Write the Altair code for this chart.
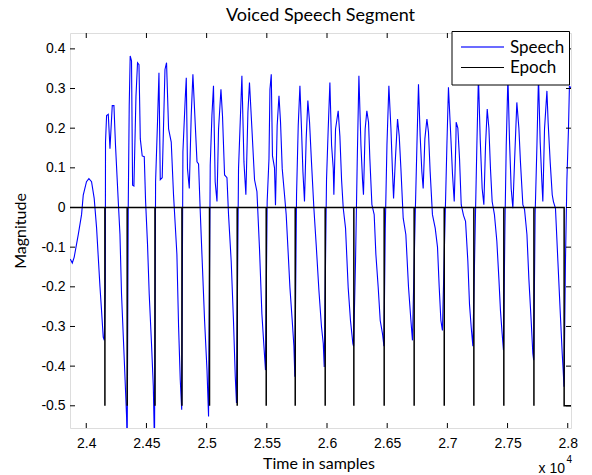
import altair as alt
import pandas as pd

# ---- data ----
# speech waveform: (time in samples, magnitude)
speech = [
    (23867, -0.13), (23884, -0.14), (23900, -0.125), (23934, -0.068), (23961, -0.018),
    (23975, 0.031), (24002, 0.065), (24022, 0.073), (24044, 0.065), (24066, 0.023),
    (24086, -0.052), (24114, -0.2), (24127, -0.26), (24141, -0.327), (24150, -0.335),
    (24158, -0.2), (24160, 0.165), (24169, 0.232), (24183, 0.235), (24197, 0.148),
    (24216, 0.257), (24230, 0.257), (24243, 0.157), (24266, 0.015), (24280, -0.068),
    (24293, -0.218), (24316, -0.385), (24335, -0.527), (24340, -0.6), (24349, 0.006),
    (24357, 0.257), (24365, 0.382), (24376, 0.37), (24385, 0.056), (24396, 0.054),
    (24413, 0.28), (24426, 0.365), (24438, 0.36), (24449, 0.173), (24465, 0.13),
    (24482, 0.128), (24493, 0.015), (24509, -0.093), (24523, -0.218), (24542, -0.343),
    (24557, -0.45), (24567, -0.6), (24576, 0.065), (24592, 0.215), (24604, 0.34),
    (24615, 0.07), (24631, 0.075), (24654, 0.348), (24667, 0.365), (24684, 0.198),
    (24706, 0.165), (24725, 0.032), (24753, -0.118), (24767, -0.30), (24781, -0.435),
    (24793, -0.51), (24803, 0.14), (24822, 0.273), (24831, 0.327), (24841, 0.098),
    (24856, 0.048), (24872, 0.232), (24886, 0.336), (24900, 0.245), (24920, 0.115),
    (24933, 0.11), (24947, -0.01), (24961, -0.118), (24983, -0.285), (25003, -0.41),
    (25016, -0.527), (25030, 0.107), (25044, 0.232), (25057, 0.307), (25071, 0.065),
    (25086, 0.015), (25099, 0.198), (25119, 0.298), (25132, 0.23), (25149, 0.082),
    (25169, 0.075), (25182, -0.018), (25204, -0.135), (25223, -0.285), (25238, -0.427),
    (25248, -0.493), (25265, 0.098), (25279, 0.215), (25293, 0.332), (25310, 0.115),
    (25326, 0.032), (25343, 0.24), (25356, 0.315), (25376, 0.2), (25398, 0.07),
    (25418, 0.04), (25439, -0.102), (25459, -0.268), (25476, -0.35), (25489, -0.41),
    (25503, 0.015), (25518, 0.123), (25526, 0.298), (25537, 0.336), (25547, 0.13),
    (25564, 0.1), (25572, 0.006), (25586, 0.207), (25601, 0.282), (25614, 0.215),
    (25628, 0.098), (25647, 0.032), (25661, -0.018), (25678, -0.118), (25692, -0.202),
    (25711, -0.285), (25725, -0.35), (25733, -0.427), (25747, 0.032), (25761, 0.207),
    (25775, 0.307), (25788, 0.2), (25800, 0.09), (25813, 0.015), (25827, 0.173),
    (25841, 0.27), (25855, 0.215), (25871, 0.115), (25891, -0.002), (25910, -0.093),
    (25933, -0.21), (25954, -0.3), (25969, -0.343), (25977, -0.402), (25996, 0.07),
    (26010, 0.198), (26024, 0.315), (26038, 0.157), (26052, 0.098), (26057, 0.032),
    (26071, 0.198), (26093, 0.244), (26107, 0.18), (26121, 0.07), (26135, -0.002),
    (26154, -0.052), (26176, -0.202), (26195, -0.285), (26215, -0.343), (26221, -0.35),
    (26237, -0.135), (26251, 0.115), (26265, 0.332), (26282, 0.157), (26295, 0.07),
    (26303, 0.032), (26317, 0.198), (26331, 0.244), (26345, 0.215), (26356, 0.123),
    (26373, 0.007), (26392, -0.018), (26406, -0.118), (26425, -0.2), (26442, -0.285),
    (26461, -0.318), (26473, -0.35), (26484, -0.052), (26498, 0.157), (26514, 0.307),
    (26531, 0.2), (26544, 0.09), (26553, 0.023), (26567, 0.115), (26586, 0.223),
    (26600, 0.18), (26614, 0.098), (26633, -0.027), (26655, -0.068), (26677, -0.2),
    (26697, -0.285), (26710, -0.335), (26733, -0.018), (26747, 0.157), (26760, 0.311),
    (26774, 0.18), (26788, 0.09), (26799, 0.048), (26813, 0.173), (26830, 0.223),
    (26843, 0.19), (26857, 0.09), (26876, -0.018), (26899, -0.052), (26918, -0.1),
    (26932, -0.2), (26946, -0.285), (26959, -0.31), (26982, -0.018), (26996, 0.157),
    (27009, 0.303), (27029, 0.175), (27043, 0.082), (27057, 0.015), (27071, 0.173),
    (27073, 0.215), (27087, 0.2), (27101, 0.123), (27115, 0.007), (27134, -0.02),
    (27151, -0.035), (27170, -0.135), (27184, -0.245), (27198, -0.302), (27212, -0.35),
    (27231, -0.052), (27245, 0.157), (27258, 0.33), (27273, 0.17), (27289, 0.048),
    (27303, 0.007), (27317, 0.157), (27331, 0.248), (27345, 0.2), (27358, 0.098),
    (27372, 0.015), (27391, -0.018), (27411, -0.085), (27428, -0.18), (27441, -0.26),
    (27455, -0.318), (27466, -0.36), (27478, -0.052), (27489, 0.157), (27503, 0.33),
    (27516, 0.17), (27530, 0.048), (27544, -0.002), (27558, 0.115), (27577, 0.265),
    (27594, 0.2), (27607, 0.115), (27627, 0.007), (27641, -0.005), (27661, -0.068),
    (27677, -0.18), (27696, -0.285), (27710, -0.368), (27717, -0.385), (27729, -0.018),
    (27744, 0.157), (27757, 0.33), (27771, 0.165), (27785, 0.065), (27793, 0.015),
    (27807, 0.198), (27827, 0.294), (27837, 0.215), (27854, 0.115), (27871, 0.032),
    (27881, 0.015), (27898, -0.002), (27918, -0.135), (27937, -0.26), (27954, -0.368),
    (27962, -0.41), (27969, -0.452), (27981, -0.135), (27993, 0.07), (28006, 0.198),
    (28014, 0.307), (28026, 0.3),
]

# epoch (glottal closure) instants, in samples; epoch signal is -0.5 there, 0 elsewhere
epochs = [24155, 24340, 24571, 24795, 25024, 25254, 25495, 25736, 25985,
          26223, 26475, 26724, 26974, 27220, 27469, 27719, 27970]
epoch_level = -0.5

x_ticks = [24000, 24500, 25000, 25500, 26000, 26500, 27000, 27500, 28000]
y_ticks = [-0.5, -0.4, -0.3, -0.2, -0.1, 0.0, 0.1, 0.2, 0.3, 0.4]

legend_labels = ["Speech", "Epoch"]

X_DOMAIN = [23865, 28027]
Y_DOMAIN = [-0.556, 0.44]
W, H = 501, 395

# ---- tables ----
sp = pd.DataFrame(speech, columns=["t", "v"])
sp["i"] = range(len(sp))

ep_rows = [(X_DOMAIN[0], 0.0)]
for k, e in enumerate(epochs):
    ep_rows += [(e, 0.0), (e, epoch_level)]
    if k < len(epochs) - 1:
        ep_rows.append((e, 0.0))
ep_rows.append((X_DOMAIN[1], epoch_level))
ep = pd.DataFrame(ep_rows, columns=["t", "v"])
ep["i"] = range(len(ep))

xt = pd.DataFrame({"t": x_ticks})
yt = pd.DataFrame({"v": y_ticks})

TICK_FONT = "Liberation Sans"
TEXT_FONT = "Lato"
BLUE = "#0000ff"
LEG_BLUE = "#3a3aff"

xscale = alt.Scale(domain=X_DOMAIN, nice=False, zero=False)
yscale = alt.Scale(domain=Y_DOMAIN, nice=False, zero=False)

x_enc = alt.X(
    "t:Q", scale=xscale,
    axis=alt.Axis(
        values=x_ticks, labelExpr="'' + (datum.value / 10000)",
        title="Time in samples", grid=False, ticks=False, tickSize=0, domain=False,
        labelPadding=8, labelFont=TICK_FONT, labelFontSize=14, labelColor="black",
        titleFont=TEXT_FONT, titleFontSize=16, titleFontWeight="normal",
        titleColor="black", titleX=W / 2 - 2, titleY=35, titleBaseline="middle",
    ),
)
y_enc = alt.Y(
    "v:Q", scale=yscale,
    axis=alt.Axis(
        values=y_ticks,
        labelExpr="datum.value == 0 ? '0' : (datum.value < 0 ? '-' : '') + format(abs(datum.value), '.1f')",
        title="Magnitude", grid=False, ticks=False, tickSize=0, domain=False,
        labelPadding=5, labelFont=TICK_FONT, labelFontSize=14, labelColor="black",
        titleFont=TEXT_FONT, titleFontSize=16, titleFontWeight="normal",
        titleColor="black", titleX=-50, titleY=H / 2, titleBaseline="middle",
    ),
)

speech_line = alt.Chart(sp).mark_line(strokeWidth=1.1, clip=True).encode(
    x=x_enc, y=y_enc, order="i:Q", color=alt.value(BLUE)
)
epoch_line = alt.Chart(ep).mark_line(strokeWidth=1.5, clip=True).encode(
    x=x_enc, y=y_enc, order="i:Q", color=alt.value("black")
)

# inward tick marks on all four sides (MATLAB box style)
tick_len = 5
bx = alt.Chart(xt).mark_rule(strokeWidth=1).encode(
    x=x_enc, y=alt.value(H), y2=alt.value(H - tick_len), color=alt.value("black"))
tx = alt.Chart(xt).mark_rule(strokeWidth=1).encode(
    x=x_enc, y=alt.value(0), y2=alt.value(tick_len), color=alt.value("black"))
ly = alt.Chart(yt).mark_rule(strokeWidth=1).encode(
    y=y_enc, x=alt.value(0), x2=alt.value(tick_len), color=alt.value("black"))
ry = alt.Chart(yt).mark_rule(strokeWidth=1).encode(
    y=y_enc, x=alt.value(W), x2=alt.value(W - tick_len), color=alt.value("black"))

one = alt.Data(values=[{"k": 1}])

# title as a text mark centred over the plot box
title_txt = alt.Chart(one).mark_text(text="Voiced Speech Segment", align="center",
                                     baseline="alphabetic", font=TEXT_FONT, fontSize=18,
                                     color="black").encode(
    x=alt.value(W / 2), y=alt.value(-12))

# exponent label
exp_base = alt.Chart(one).mark_text(text="x 10", align="right", baseline="middle",
                                    font=TICK_FONT, fontSize=14, color="black").encode(
    x=alt.value(495), y=alt.value(436))
exp_pow = alt.Chart(one).mark_text(text="4", align="left", baseline="middle",
                                   font=TICK_FONT, fontSize=10, color="black").encode(
    x=alt.value(496.5), y=alt.value(427))

# legend box (upper right, drawn over the data)
leg_box = alt.Chart(one).mark_rect(strokeWidth=1).encode(
    x=alt.value(382), x2=alt.value(499.5), y=alt.value(-1.5), y2=alt.value(52),
    fill=alt.value("white"), stroke=alt.value("black"))
leg_sp_line = alt.Chart(one).mark_rule(strokeWidth=1.3).encode(
    x=alt.value(391), x2=alt.value(434), y=alt.value(14), color=alt.value(LEG_BLUE))
leg_ep_line = alt.Chart(one).mark_rule(strokeWidth=1).encode(
    x=alt.value(391), x2=alt.value(434), y=alt.value(34.5), color=alt.value("black"))
leg_sp_txt = alt.Chart(one).mark_text(text=legend_labels[0], align="left", baseline="middle",
                                      font=TEXT_FONT, fontSize=17, color="black").encode(
    x=alt.value(440), y=alt.value(14.5))
leg_ep_txt = alt.Chart(one).mark_text(text=legend_labels[1], align="left", baseline="middle",
                                      font=TEXT_FONT, fontSize=17, color="black").encode(
    x=alt.value(440), y=alt.value(34.5))

chart = alt.layer(
    speech_line, epoch_line, bx, tx, ly, ry, title_txt, exp_base, exp_pow,
    leg_box, leg_sp_line, leg_ep_line, leg_sp_txt, leg_ep_txt,
).properties(
    width=W, height=H,
    autosize=alt.AutoSizeParams(type="none"),
    padding={"left": 70, "top": 33, "right": 21, "bottom": 47},
).configure_view(
    stroke="black", strokeWidth=1
).configure(background="white")

chart.save("out.html", embed_options={"renderer": "svg", "actions": False})
